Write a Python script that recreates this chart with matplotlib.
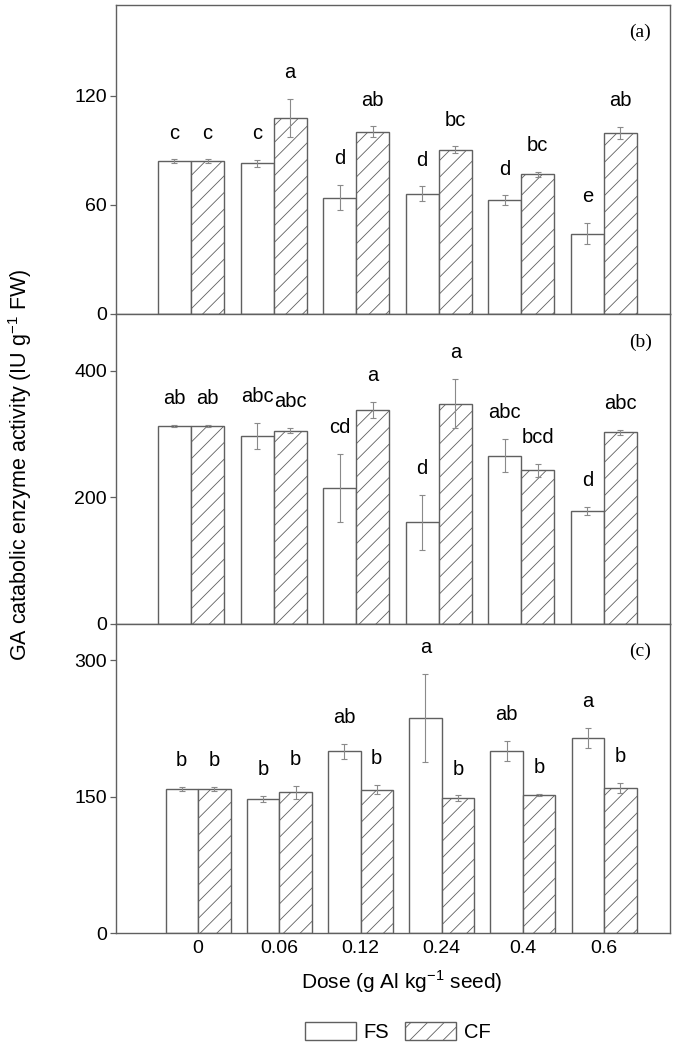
import matplotlib
matplotlib.use("Agg")
import matplotlib.pyplot as plt
from matplotlib.patches import Patch
import numpy as np

plt.rcParams['font.family'] = ['Liberation Sans', 'DejaVu Sans']
plt.rcParams['mathtext.fontset'] = 'custom'
plt.rcParams['mathtext.rm'] = 'Liberation Sans'
plt.rcParams['hatch.linewidth'] = 0.6

doses = ['0', '0.06', '0.12', '0.24', '0.4', '0.6']

# panel (a)
a_fs = [84, 82.8, 64, 66.2, 62.6, 44.2]
a_fs_err = [1, 2, 6.8, 4, 2.6, 5.8]
a_cf = [84, 107.9, 100.2, 90.5, 76.9, 99.6]
a_cf_err = [1, 10.6, 3, 1.7, 1.3, 3.5]
a_fs_let = ['c', 'c', 'd', 'd', 'd', 'e']
a_cf_let = ['c', 'a', 'ab', 'bc', 'bc', 'ab']

# panel (b)
b_fs = [313.6, 297.2, 215, 160.7, 266, 178.7]
b_fs_err = [1.5, 20.5, 53.8, 43, 26.3, 6.9]
b_cf = [313.6, 305.7, 338.3, 348.4, 243, 303]
b_cf_err = [1.5, 4, 12.4, 39, 10.5, 4.2]
b_fs_let = ['ab', 'abc', 'cd', 'd', 'abc', 'd']
b_cf_let = ['ab', 'abc', 'a', 'a', 'bcd', 'abc']

# panel (c)
c_fs = [158.4, 147.8, 199.9, 236.5, 199.9, 214.9]
c_fs_err = [2.2, 3.3, 8.4, 48.8, 11, 11.2]
c_cf = [158.4, 154.7, 157.7, 148.1, 151.8, 159.5]
c_cf_err = [2.2, 7.3, 4.8, 3.3, 1.6, 5.5]
c_fs_let = ['b', 'b', 'ab', 'a', 'ab', 'a']
c_cf_let = ['b', 'b', 'b', 'b', 'b', 'b']

edge = '#606060'
fig = plt.figure(figsize=(6.75, 10.47), dpi=100)

left = 116 / 675
width = (670 - 116) / 675
panels = [
    ('(a)', a_fs, a_fs_err, a_cf, a_cf_err, a_fs_let, a_cf_let, (5, 314), 170, [0, 60, 120], (-0.908, 5.80)),
    ('(b)', b_fs, b_fs_err, b_cf, b_cf_err, b_fs_let, b_cf_let, (314, 624), 490, [0, 200, 400], (-0.908, 5.80)),
    ('(c)', c_fs, c_fs_err, c_cf, c_cf_err, c_fs_let, c_cf_let, (624, 933), 340, [0, 150, 300], (-1.01, 5.81)),
]

bw = 0.4
x = np.arange(len(doses))
for i, (lab, fs, fse, cf, cfe, fsl, cfl, (top, bot), ymax, yt, xl) in enumerate(panels):
    ax = fig.add_axes([left, 1 - bot / 1047, width, (bot - top) / 1047])
    ax.bar(x - bw / 2, fs, bw, color='white', edgecolor=edge, linewidth=1.0, zorder=2)
    ax.bar(x + bw / 2, cf, bw, color='white', edgecolor=edge, linewidth=1.0, hatch='//', zorder=2)
    ax.errorbar(x - bw / 2, fs, yerr=fse, fmt='none', ecolor='#8a8a8a', elinewidth=0.8,
                capsize=2.5, capthick=0.8, zorder=3)
    ax.errorbar(x + bw / 2, cf, yerr=cfe, fmt='none', ecolor='#8a8a8a', elinewidth=0.8,
                capsize=2.5, capthick=0.8, zorder=3)
    for j in range(len(doses)):
        ax.annotate(fsl[j], (x[j] - bw / 2, fs[j] + fse[j]), xytext=(0, 15),
                    textcoords='offset points', ha='center', va='baseline', fontsize=14.5)
        ax.annotate(cfl[j], (x[j] + bw / 2, cf[j] + cfe[j]), xytext=(0, 15),
                    textcoords='offset points', ha='center', va='baseline', fontsize=14.5)
    ax.set_ylim(0, ymax)
    ax.set_xlim(*xl)
    ax.set_yticks(yt)
    ax.tick_params(axis='y', direction='out', length=4, width=0.9, color=edge,
                   labelsize=14, pad=2.5)
    if i < 2:
        ax.set_xticks([])
    else:
        ax.set_xticks(x)
        ax.set_xticklabels(doses)
        ax.tick_params(axis='x', length=0, labelsize=14, pad=5)
    for s in ax.spines.values():
        s.set_color(edge)
        s.set_linewidth(1.0)
    ax.text(0.946, 0.91, lab, transform=ax.transAxes, ha='center', va='center',
            fontsize=14, family='Liberation Serif')

fig.text(20 / 675, 1 - 465 / 1047, 'GA catabolic enzyme activity (IU g$^{-1}$ FW)',
         rotation=90, ha='center', va='center', fontsize=15.5)
fig.text(402 / 675, 1 - 982 / 1047, 'Dose (g Al kg$^{-1}$ seed)',
         ha='center', va='center', fontsize=15)

handles = [Patch(facecolor='white', edgecolor=edge, linewidth=1.0, label='FS'),
           Patch(facecolor='white', edgecolor=edge, linewidth=1.0, hatch='//', label='CF')]
fig.legend(handles=handles, loc='center', bbox_to_anchor=(398 / 675, 1 - 1032 / 1047),
           ncol=2, frameon=False, fontsize=14.5, handlelength=2.5, handleheight=0.95,
           handletextpad=0.4, columnspacing=0.8)

fig.savefig('out.png', dpi=100)
